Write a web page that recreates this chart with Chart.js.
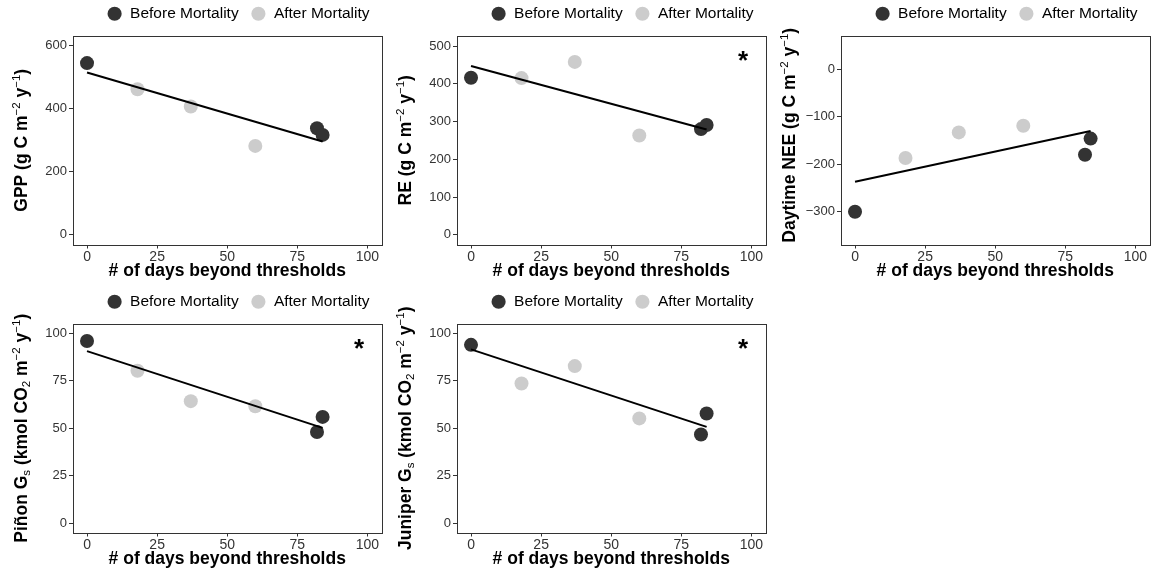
<!DOCTYPE html>
<html>
<head>
<meta charset="utf-8">
<script src="https://cdn.jsdelivr.net/npm/chart.js@4.4.1/dist/chart.umd.min.js"></script>
<style>
  body { margin: 0; background: #fff; width: 1153px; height: 571px; overflow: hidden; position: relative; }
  canvas { position: absolute; }
</style>
</head>
<body>
<canvas id="gpp" width="384" height="289" style="left:0px;top:-6px"></canvas>
<canvas id="re" width="384" height="289" style="left:384px;top:-6px"></canvas>
<canvas id="nee" width="384" height="289" style="left:768px;top:-6px"></canvas>
<canvas id="pinon" width="384" height="289" style="left:0px;top:282px"></canvas>
<canvas id="juniper" width="384" height="289" style="left:384px;top:282px"></canvas>
<script>
// x values (days beyond thresholds)
const beforeDays = [0, 82, 84];
const afterDays = [18, 37, 60];
const fitDays = [0, 84];
const dayTicks = [0, 25, 50, 75, 100];

const gppBefore = [545, 338, 317];
const gppAfter = [462, 407, 282];
const gppFit = [515, 296];
const gppTicks = [0, 200, 400, 600];

const reBefore = [416, 280, 291];
const reAfter = [415, 458, 263];
const reFit = [447, 279];
const reTicks = [0, 100, 200, 300, 400, 500];

const neeBefore = [-300, -180, -146];
const neeAfter = [-187, -133, -119];
const neeFit = [-237, -130];
const neeTicks = [-300, -200, -100, 0];

const pinonBefore = [96, 48, 56];
const pinonAfter = [80.3, 64.3, 61.6];
const pinonFit = [90.7, 50.2];

const juniperBefore = [94, 46.7, 57.8];
const juniperAfter = [73.6, 82.8, 55.2];
const juniperFit = [91.6, 50.7];
const gsTicks = [0, 25, 50, 75, 100];

const FONT = '"Liberation Sans", Arial, Helvetica, sans-serif';
const DARK = '#333333';
const LIGHT = '#cccccc';

const toXY = (xs, ys) => xs.map((x, i) => ({ x: x, y: ys[i] }));

// draws the frame, the y title (with super/subscripts) and the significance star
const panelDecor = {
  id: 'panelDecor',
  afterDraw(chart, args, opts) {
    const ctx = chart.ctx;
    const ca = chart.chartArea;
    ctx.save();
    ctx.strokeStyle = '#333';
    ctx.lineWidth = 1;
    ctx.strokeRect(Math.round(ca.left) + 0.5, Math.round(ca.top) + 0.5,
      Math.round(ca.right - ca.left), Math.round(ca.bottom - ca.top));

    if (opts.star) {
      ctx.fillStyle = '#000';
      ctx.font = 'bold 26px ' + FONT;
      ctx.textAlign = 'center';
      ctx.textBaseline = 'middle';
      ctx.fillText('*', chart.scales.x.getPixelForValue(opts.star[0]),
        chart.scales.y.getPixelForValue(opts.star[1]) + 3);
    }

    const big = 'bold 17.5px ' + FONT;
    const small = '11.5px ' + FONT;
    let total = 0;
    opts.title.forEach(p => {
      ctx.font = p[1] ? small : big;
      total += ctx.measureText(p[0]).width;
    });
    ctx.translate(27, (ca.top + ca.bottom) / 2 + (opts.shift || 0));
    ctx.rotate(-Math.PI / 2);
    ctx.fillStyle = '#000';
    ctx.textAlign = 'left';
    ctx.textBaseline = 'alphabetic';
    let cx = -total / 2;
    opts.title.forEach(p => {
      ctx.font = p[1] ? small : big;
      const dy = p[1] === 'sup' ? -7 : (p[1] === 'sub' ? 3 : 0);
      ctx.fillText(p[0], cx, dy);
      cx += ctx.measureText(p[0]).width;
    });
    ctx.restore();
  }
};

function makePanel(id, before, after, fit, yTicks, yMin, yMax, title, star, shift) {
  new Chart(document.getElementById(id), {
    type: 'scatter',
    data: {
      datasets: [
        {
          label: 'fit',
          type: 'line',
          data: toXY(fitDays, fit),
          showLine: true,
          borderColor: '#000',
          borderWidth: 2,
          pointRadius: 0,
          order: 0
        },
        {
          label: 'Before Mortality',
          data: toXY(beforeDays, before),
          backgroundColor: DARK,
          pointBackgroundColor: DARK,
          borderWidth: 0,
          pointRadius: 7,
          order: 1
        },
        {
          label: 'After Mortality',
          data: toXY(afterDays, after),
          backgroundColor: LIGHT,
          pointBackgroundColor: LIGHT,
          borderWidth: 0,
          pointRadius: 7,
          order: 2
        }
      ]
    },
    options: {
      responsive: false,
      animation: false,
      layout: { autoPadding: false, padding: { top: 0, right: 2.5, left: 0, bottom: 0 } },
      plugins: {
        tooltip: { enabled: false },
        legend: {
          position: 'top',
          align: 'end',
          labels: {
            filter: item => item.text !== 'fit',
            usePointStyle: true,
            pointStyle: 'circle',
            boxWidth: 16,
            boxHeight: 10,
            padding: 12,
            color: '#000',
            font: { size: 15.5, family: FONT }
          }
        },
        panelDecor: { title: title, star: star, shift: shift }
      },
      scales: {
        x: {
          type: 'linear',
          min: -5,
          max: 105,
          afterBuildTicks: s => { s.ticks = dayTicks.map(v => ({ value: v })); },
          afterFit: s => { s.height = 38.5; s.paddingLeft = 0; s.paddingRight = 0; },
          border: { display: false },
          grid: { drawOnChartArea: false, drawTicks: true, tickLength: 4, color: '#333' },
          ticks: { color: '#333', padding: 0, maxRotation: 0, font: { size: 14, family: FONT } },
          title: {
            display: true,
            text: '# of days beyond thresholds',
            color: '#000',
            padding: { top: 0, bottom: 1.5 },
            font: { size: 17.5, weight: 'bold', family: FONT }
          }
        },
        // empty strip between legend and panel
        spacer: {
          type: 'linear',
          axis: 'x',
          position: 'top',
          grid: { display: false },
          border: { display: false },
          ticks: { display: false },
          afterFit: s => { s.height = 4.5; s.paddingLeft = 0; s.paddingRight = 0; }
        },
        y: {
          type: 'linear',
          min: yMin,
          max: yMax,
          afterBuildTicks: s => { s.ticks = yTicks.map(v => ({ value: v })); },
          afterFit: s => { s.width = 73; },
          border: { display: false },
          grid: { drawOnChartArea: false, drawTicks: true, tickLength: 4, color: '#333' },
          ticks: {
            color: '#333',
            padding: 2,
            font: { size: 13, family: FONT },
            callback: v => String(v).replace('-', '\u2212')
          }
        }
      }
    },
    plugins: [panelDecor]
  });
}

makePanel('gpp', gppBefore, gppAfter, gppFit, gppTicks, -31, 631,
  [['GPP (g C m'], ['\u22122', 'sup'], [' y'], ['\u22121', 'sup'], [')']], null, 0);
makePanel('re', reBefore, reAfter, reFit, reTicks, -25.4, 526.5,
  [['RE (g C m'], ['\u22122', 'sup'], [' y'], ['\u22121', 'sup'], [')']], [97, 467], 0);
makePanel('nee', neeBefore, neeAfter, neeFit, neeTicks, -369, 70,
  [['Daytime NEE (g C m'], ['\u22122', 'sup'], [' y'], ['\u22121', 'sup'], [')']], null, -5);
makePanel('pinon', pinonBefore, pinonAfter, pinonFit, gsTicks, -5, 105,
  [['Pi\u00f1on G'], ['s', 'sub'], [' (kmol CO'], ['2', 'sub'], [' m'], ['\u22122', 'sup'], [' y'], ['\u22121', 'sup'], [')']], [97, 93], 0);
makePanel('juniper', juniperBefore, juniperAfter, juniperFit, gsTicks, -5, 105,
  [['Juniper G'], ['s', 'sub'], [' (kmol CO'], ['2', 'sub'], [' m'], ['\u22122', 'sup'], [' y'], ['\u22121', 'sup'], [')']], [97, 93], 0);
</script>
</body>
</html>
